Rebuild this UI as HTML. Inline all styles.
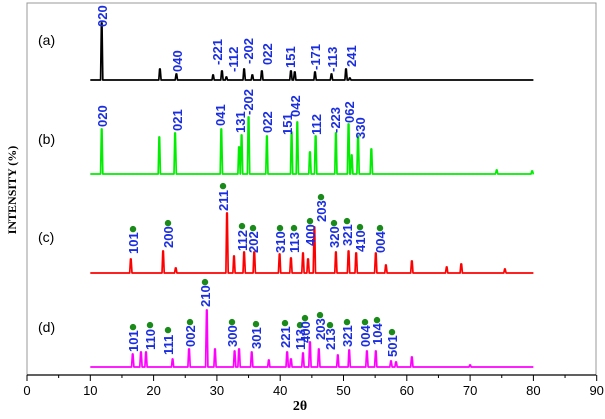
<!DOCTYPE html>
<html><head><meta charset="utf-8"><style>
body{margin:0;background:#fff;}
svg text{font-family:"Liberation Sans",Arial,sans-serif;}
</style></head><body>
<svg id="chart" width="605" height="414" viewBox="0 0 605 414" xmlns="http://www.w3.org/2000/svg">
<g id="frame"></g>
<g id="series"></g>
<g id="labels"></g>
</svg>
<script>
const xTicks=[0,10,20,30,40,50,60,70,80,90];
const seriesNames=["(a)","(b)","(c)","(d)"];
const seriesColors=["#000000","#00ee00","#ff0000","#ff00ff"];
const baselines=[80,174,273,367];
const peaksA=[[11.8,57],[21.0,11],[23.6,6],[29.4,5],[30.8,9],[31.5,3],[34.3,11],[35.6,5],[37.1,9],[41.7,9],[42.3,8],[45.5,8],[48.1,6],[50.4,11],[51.0,2]];
const peaksB=[[11.8,45],[20.9,37],[23.4,41],[30.7,45],[33.5,27],[33.9,39],[35.0,57],[37.9,38],[41.8,42],[42.7,52],[44.7,22],[45.6,38],[48.8,41],[50.8,50],[51.3,19],[52.3,38],[54.4,25],[74.2,4],[79.8,3]];
const peaksC=[[16.4,14],[21.5,22],[23.5,5],[31.6,60],[32.7,17],[34.3,21],[35.9,21],[39.9,19],[41.7,15],[43.6,20],[44.4,14],[45.4,46],[48.8,21],[50.8,22],[52.0,20],[55.1,20],[56.7,8],[60.8,12],[66.3,6],[68.6,9],[75.5,4]];
const peaksD=[[16.7,13],[18.0,15],[18.8,15],[23.0,8],[25.6,18],[28.4,57],[29.7,18],[32.8,16],[33.5,18],[35.5,15],[38.2,7],[41.1,15],[41.7,8],[43.6,14],[44.7,25],[46.1,18],[49.1,12],[50.9,17],[53.7,16],[55.1,16],[57.5,6],[58.3,5],[60.8,10],[70.0,2]];
const allPeaks=[peaksA,peaksB,peaksC,peaksD];
const labelsA=[["020",102,27],["040",177,72],["-221",217,65],["-112",233,72],["-202",248,64],["022",267,65],["151",290,68],["-171",315,70],["-113",332,72],["241",351,67]];
const labelsB=[["020",102,127],["021",177,131],["041",220,126],["131",240,133],["-202",248,115],["022",267,133],["151",287,135],["042",295,117],["112",316,135],["-223",335,133],["062",349,123],["330",360,139]];
const labelsC=[["101",133,254],["200",168,248],["211",223,211],["112",242,251],["202",253,253],["310",280,253],["113",294,253],["400",310,246],["203",321,222],["320",334,248],["321",347,246],["410",360,252],["004",380,253]];
const labelsD=[["101",133,352],["110",150,350],["111",168,355],["002",190,347],["210",205,307],["300",232,347],["301",256,349],["221",285,348],["113",300,350],["400",305,343],["203",320,340],["213",330,350],["321",347,347],["004",365,347],["104",377,345],["501",392,357]];
const allLabels=[labelsA,labelsB,labelsC,labelsD];
const NS="http://www.w3.org/2000/svg";
function xs(t){return 27+t*6.33;}
function mk(tag,attrs,parent){const e=document.createElementNS(NS,tag);for(const k in attrs)e.setAttribute(k,attrs[k]);parent.appendChild(e);return e;}
const frame=document.getElementById('frame');
let e=mk('rect',{x:27,y:3,width:569,height:372,fill:'none',stroke:'#999','stroke-width':1},frame);


e=mk('line',{x1:27,y1:375,x2:596,y2:375,stroke:'#000','stroke-width':1.3},frame);


xTicks.forEach((t,i)=>{
  const l=mk('line',{x1:xs(t),y1:375,x2:xs(t),y2:381,stroke:'#000','stroke-width':1},frame);
  
  
  if(i<xTicks.length-1){const m=mk('line',{x1:xs(t+5),y1:375,x2:xs(t+5),y2:378,stroke:'#000','stroke-width':1},frame);
  
  }
  const tx=mk('text',{x:xs(t),y:395,'font-size':13,'text-anchor':'middle',fill:'#000'},frame);
  tx.textContent=t;
  
  
});
e=mk('text',{x:300,y:410,'font-size':14,'font-weight':'bold','text-anchor':'middle',style:'font-family:"Liberation Serif",serif'},frame);
e.textContent='2θ';


e=mk('text',{x:0,y:0,'font-size':12,'font-weight':'bold','text-anchor':'middle',transform:'translate(16,190) rotate(-90)',style:'font-family:"Liberation Serif",serif'},frame);
e.textContent='INTENSITY (%)';


const sg=document.getElementById('series');
const lg=document.getElementById('labels');
const nameY=[45,144,242,332];
allPeaks.forEach((pk,si)=>{
  const b=baselines[si];
  const sorted=pk.slice().sort((a,c)=>a[0]-c[0]);
  let d='M'+xs(10)+','+b;
  sorted.forEach(p=>{
    d+=' L'+xs(p[0]-0.18).toFixed(1)+','+b+' L'+xs(p[0]-0.05).toFixed(1)+','+(b-p[1])+' L'+xs(p[0]+0.05).toFixed(1)+','+(b-p[1])+' L'+xs(p[0]+0.18).toFixed(1)+','+b;
  });
  d+=' L'+xs(80)+','+b;
  const path=mk('path',{d:d,fill:'none',stroke:seriesColors[si],'stroke-width':1.7,'stroke-linejoin':'round'},sg);
  
  
  const nm=mk('text',{x:38,y:nameY[si],'font-size':14,fill:'#000'},lg);
  nm.textContent=seriesNames[si];
  
  
  allLabels[si].forEach(L=>{
    const t=mk('text',{x:0,y:0,'font-size':13,'font-weight':'bold',fill:'#1a2ee0',transform:'translate('+(L[1]+5)+','+L[2]+') rotate(-90)'},lg);
    t.textContent=L[0];
    
    
    if(si>=2){
      const w=L[0].length*7.3;
      const c=mk('circle',{cx:L[1],cy:L[2]-w-3,r:3.2,fill:'#1a8a1a'},lg);
      
      
    }
  });
});
</script>
</body></html>
